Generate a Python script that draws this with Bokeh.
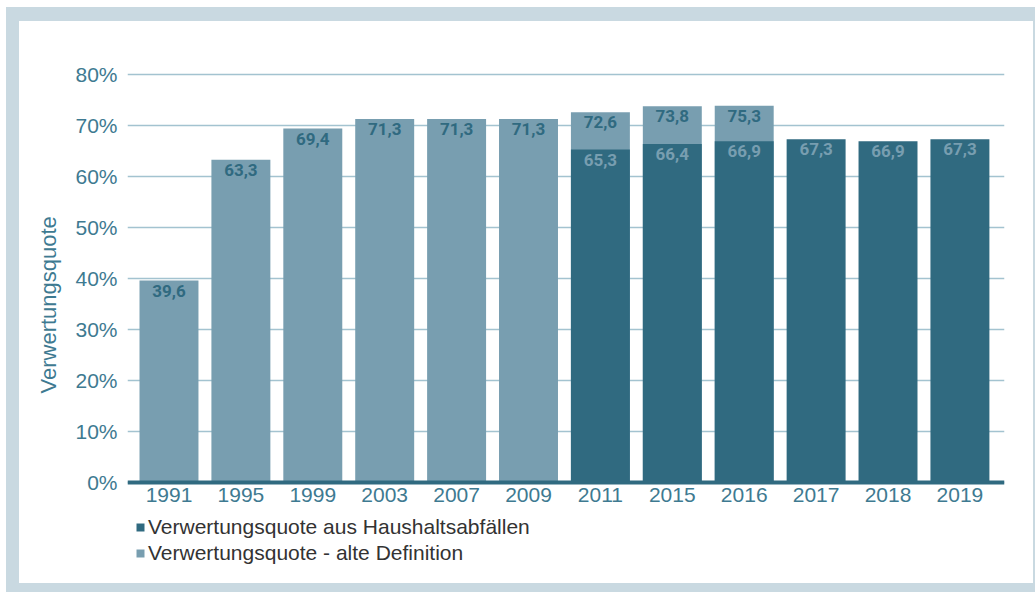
from bokeh.plotting import figure
from bokeh.models import Range1d, FixedTicker, Legend, LegendItem, ColumnDataSource, Title
from bokeh.core.properties import value
from bokeh.embed import file_html
from bokeh.resources import INLINE

# ---- data ----
years = ["1991", "1995", "1999", "2003", "2007", "2009", "2011", "2015", "2016", "2017", "2018", "2019"]
old_definition = [39.6, 63.3, 69.4, 71.3, 71.3, 71.3, 72.6, 73.8, 75.3, None, None, None]
# bar tops as drawn in the reference (2016 bar is drawn lower than its label)
old_definition_drawn = [39.6, 63.3, 69.4, 71.3, 71.3, 71.3, 72.6, 73.8, 73.9, None, None, None]
household = [None, None, None, None, None, None, 65.3, 66.4, 66.9, 67.3, 66.9, 67.3]
y_ticks = [0, 10, 20, 30, 40, 50, 60, 70, 80]

name_household = "Verwertungsquote aus Haushaltsabfällen"
name_old = "Verwertungsquote - alte Definition"
y_title = "Verwertungsquote"

DARK = "#306a80"
LIGHT = "#789eb0"
TXT = "#3e7a91"
FRAME = "#c9d9e1"
GRID = "#a3c3d0"
FONT = "Liberation Sans"
LFONT = "Roboto"

def fmt(v):
    return f"{v:.1f}".replace(".", ",")

old_idx = [i for i, v in enumerate(old_definition) if v is not None]
hh_idx = [i for i, v in enumerate(household) if v is not None]

src_old = ColumnDataSource(dict(
    x=old_idx,
    top=[old_definition_drawn[i] for i in old_idx],
    label=[fmt(old_definition[i]) for i in old_idx],
))
src_hh = ColumnDataSource(dict(
    x=hh_idx,
    top=[household[i] for i in hh_idx],
    label=[fmt(household[i]) for i in hh_idx],
))

# frame extends below zero so that the x labels and the legend sit inside it
p = figure(width=1014, height=562,
           x_range=Range1d(-0.577, 11.62), y_range=Range1d(-18.63, 80.4),
           output_backend="svg", toolbar_location=None,
           min_border_left=108, min_border_right=29,
           min_border_top=51, min_border_bottom=6)
C = FRAME
p.styles = {
    "margin-left": "19px",
    "margin-top": "21px",
    "box-shadow": (f"-13px 0 0 0 {C}, 0 -14px 0 0 {C}, -13px -14px 0 0 {C}, "
                   f"0 9px 0 0 {C}, -13px 9px 0 0 {C}, 2px 0 0 0 {C}, "
                   f"2px -14px 0 0 {C}, 2px 9px 0 0 {C}"),
}
p.outline_line_color = None
p.background_fill_color = "white"
p.border_fill_color = "white"

p.xgrid.grid_line_color = None
p.ygrid.ticker = FixedTicker(ticks=y_ticks)
p.ygrid.grid_line_color = GRID
p.ygrid.grid_line_width = 1.5

r_old = p.vbar(x="x", top="top", bottom=0, width=0.82, source=src_old,
               fill_color=LIGHT, line_color=None)
r_hh = p.vbar(x="x", top="top", bottom=0, width=0.82, source=src_hh,
              fill_color=DARK, line_color=None)

p.text(x="x", y="top", text="label", source=src_old,
       text_align="center", text_baseline="top", y_offset=4,
       text_font=value(LFONT), text_font_style="bold",
       text_font_size="17px", text_color=DARK)
p.text(x="x", y="top", text="label", source=src_hh,
       text_align="center", text_baseline="top", y_offset=4,
       text_font=value(LFONT), text_font_style="bold",
       text_font_size="17px", text_color=LIGHT)

# y axis
ya = p.yaxis[0]
ya.ticker = FixedTicker(ticks=y_ticks)
ya.major_label_overrides = {t: f"{t}%" for t in y_ticks}
ya.axis_line_color = None
ya.major_tick_line_color = None
ya.minor_tick_line_color = None
ya.major_tick_out = 0
ya.minor_tick_out = 0
ya.major_label_text_font = FONT
ya.major_label_text_font_size = "21px"
ya.major_label_text_color = TXT
ya.major_label_standoff = 10

t = Title(text=y_title, align="left", offset=184, standoff=24,
          text_font=FONT, text_font_style="normal", text_font_size="22px",
          text_color=TXT)
p.add_layout(t, "left")

# x axis, drawn at y = 0 inside the frame
xa = p.xaxis[0]
xa.fixed_location = 0
xa.ticker = FixedTicker(ticks=list(range(len(years))))
xa.major_label_overrides = {i: y for i, y in enumerate(years)}
xa.axis_line_color = DARK
xa.axis_line_width = 4
xa.major_tick_line_color = None
xa.minor_tick_line_color = None
xa.major_tick_out = 0
xa.minor_tick_out = 0
xa.major_label_text_font = FONT
xa.major_label_text_font_size = "21px"
xa.major_label_text_color = TXT
xa.major_label_standoff = 6

legend = Legend(items=[
    LegendItem(label=name_household, renderers=[r_hh]),
    LegendItem(label=name_old, renderers=[r_old]),
], location=(8, 12), orientation="vertical")
legend.glyph_width = 10
legend.glyph_height = 10
legend.label_height = 24
legend.spacing = 2
legend.padding = 0
legend.margin = 0
legend.label_standoff = 3
legend.label_text_font = FONT
legend.label_text_font_size = "21px"
legend.label_text_color = "#333333"
legend.border_line_color = None
legend.background_fill_alpha = 0
p.add_layout(legend, "center")

open("out.html", "w").write(file_html(p, INLINE))
